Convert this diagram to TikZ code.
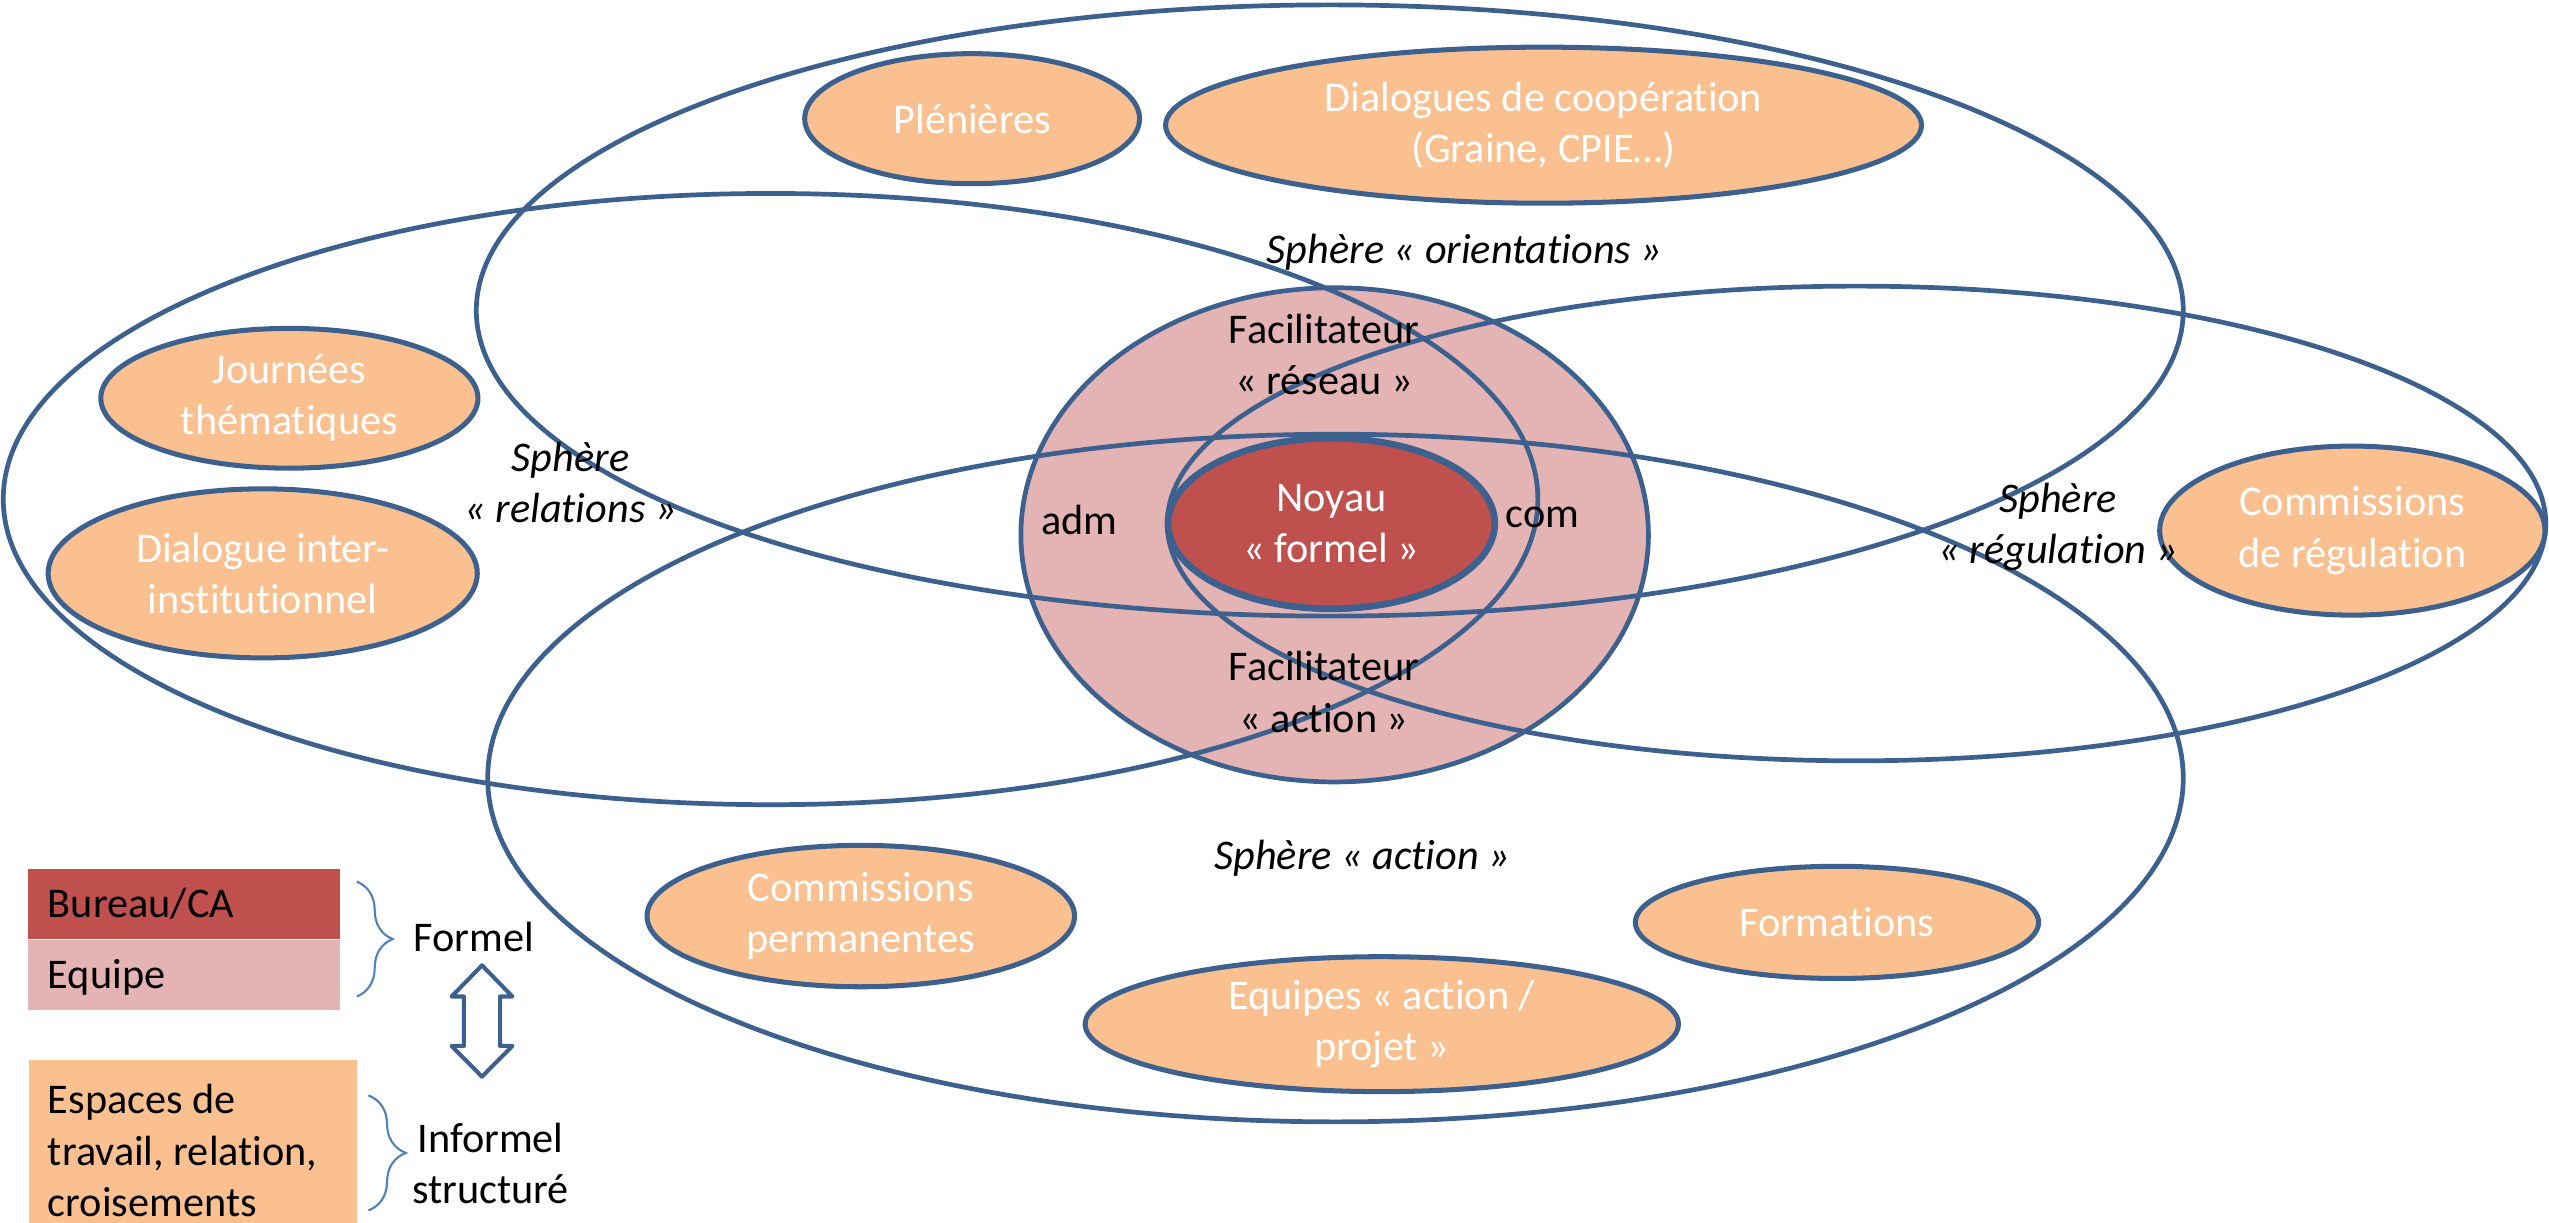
\documentclass[tikz,border=0pt]{standalone}
\usepackage{fontspec}
\setmainfont{Carlito}[Ligatures=NoCommon]
\usetikzlibrary{shapes.geometric,decorations.pathreplacing}
\definecolor{lineblue}{RGB}{61,97,143}
\definecolor{bracecol}{RGB}{79,129,189}
\definecolor{noyaured}{RGB}{192,80,77}
\definecolor{equipepink}{RGB}{228,180,180}
\definecolor{orangefill}{RGB}{250,192,144}
\newcommand{\dgfont}{\fontsize{26}{31.5}\selectfont}
\begin{document}
\begin{tikzpicture}[x=1pt,y=-1pt,
  font=\dgfont,
  sphere/.style={ellipse, draw=lineblue, line width=2.9pt, inner sep=0pt},
  espace/.style={ellipse, draw=lineblue, line width=3.1pt, fill=orangefill, text=white, align=center, inner sep=0pt},
  lbl/.style={align=center, inner sep=0pt},
  ilbl/.style={align=center, inner sep=0pt, font=\dgfont\itshape},
  legbox/.style={draw=white, line width=0.8pt, anchor=north west, inner sep=0pt},
  bracestyle/.style={draw=bracecol, line width=1.3pt, decorate},
]
\useasboundingbox (0,0) rectangle (1568,752);

% --- Equipe circle (under the sphere lines)
\node[sphere, fill=equipepink, minimum width=386pt, minimum height=304pt] (equipe) at (821,329) {};

% --- Spheres
\node[sphere, minimum width=1050pt, minimum height=376pt] (orient) at (818,191) {};
\node[sphere, minimum width=944pt, minimum height=376pt] (relat) at (474,307) {};
\node[sphere, minimum width=1043pt, minimum height=423pt] (action) at (821.5,478.6) {};
\node[sphere, minimum width=848pt, minimum height=292pt] (regul) at (1142,322) {};

% --- Noyau
\node[ellipse, draw=lineblue, line width=4.1pt, fill=noyaured, text=white, align=center, inner sep=0pt,
      minimum width=201pt, minimum height=105pt] (noyau) at (819,322) {Noyau\\« formel »};

% --- Espaces
\node[espace, minimum width=206pt, minimum height=80pt] (plen) at (598,73) {Plénières};
\node[espace, minimum width=465pt, minimum height=96pt] (dialcoop) at (949.5,77) {Dialogues de coopération\\(Graine, CPIE…)};
\node[espace, minimum width=232pt, minimum height=86pt] (journ) at (178,245) {Journées\\thématiques};
\node[espace, minimum width=264pt, minimum height=104pt] (dialinst) at (161.6,352.7) {Dialogue inter-\\institutionnel};
\node[espace, minimum width=237pt, minimum height=104pt] (comreg) at (1447,326.4) {Commissions\\de régulation};
\node[espace, minimum width=263pt, minimum height=87pt] (comperm) at (529.5,563.5) {Commissions\\permanentes};
\node[espace, minimum width=365pt, minimum height=83pt] (equipes) at (850,630) {Equipes « action /\\projet »};
\node[espace, minimum width=248pt, minimum height=69pt] (form) at (1130,567.4) {Formations};

% --- Labels
\node[ilbl] (lorient) at (901,155) {Sphère « orientations »};
\node[ilbl] (lrelat) at (351,296.6) {Sphère\\« relations »};
\node[ilbl] (lregul) at (1266,324) {Sphère\\« régulation »};
\node[ilbl] (laction) at (838,528) {Sphère « action »};
\node[lbl] (freseau) at (814.5,218) {Facilitateur\\« réseau »};
\node[lbl] (faction) at (814.5,425.6) {Facilitateur\\« action »};
\node[lbl] (adm) at (664,320) {adm};
\node[lbl] (com) at (949,318) {com};

% --- Legend
\node[legbox, fill=noyaured, minimum width=192.7pt, minimum height=44pt] (bureau) at (16.6,533.5) {};
\node[legbox, fill=equipepink, minimum width=192.7pt, minimum height=44pt] (equipebox) at (16.6,577.5) {};
\node[anchor=north west, inner sep=0pt, fill=orangefill, minimum width=202pt, minimum height=101pt] (espbox) at (17.4,651.8) {};
\node[lbl, anchor=west] (tbureau) at (29.3,556) {Bureau/CA};
\node[lbl, anchor=west] (tequipe) at (29.3,601) {Equipe};
\node[align=left, inner sep=0pt, anchor=west] (tesp) at (29.3,707.8) {Espaces de\\travail, relation,\\croisements};

\coordinate (b1top) at (219.5,542.3);
\coordinate (b1bot) at (219.5,613);
\coordinate (b2top) at (226.6,673.8);
\coordinate (b2bot) at (226.6,744.6);
\draw[bracestyle, decoration={brace, amplitude=22pt}] (b1top) -- (b1bot);
\draw[bracestyle, decoration={brace, amplitude=23pt}] (b2top) -- (b2bot);

\node[lbl] (formel) at (291.5,576.4) {Formel};
\node[lbl] (informel) at (301.7,715.7) {Informel\\structuré};

% double arrow
\draw[draw=lineblue, line width=2.5pt, line join=round, fill=white]
  (296.5,593.8) -- (315.2,613) -- (307.6,613) -- (307.6,643.4) -- (315.2,643.4)
  -- (296.5,662.3) -- (277.8,643.4) -- (285.4,643.4) -- (285.4,613) -- (277.8,613) -- cycle;
\end{tikzpicture}
\end{document}
